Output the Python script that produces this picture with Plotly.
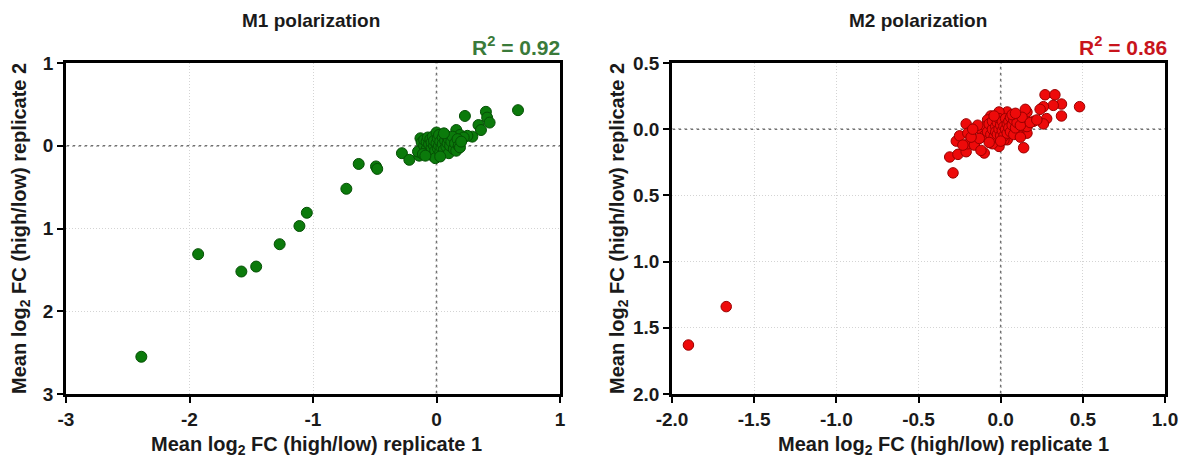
import plotly.graph_objects as go

# ---------------- data ----------------
m1_x = [-2.39, -1.93, -1.58, -1.46, -1.27, -1.11, -1.05, -0.73, -0.63, -0.49, -0.48,
        -0.28, -0.22, -0.14, -0.15,
        0.66, 0.40, 0.41, 0.43, 0.23, 0.34, 0.36, 0.29, 0.16, 0.19, 0.25, 0.22,
        -0.13, -0.12, -0.10, -0.10, -0.08, -0.08, -0.07, -0.06, -0.06, -0.05, -0.04, -0.04,
        -0.03, -0.03, -0.02, -0.02, -0.01, -0.01, 0.00, 0.00, 0.01, 0.01, 0.02, 0.02,
        0.03, 0.03, 0.04, 0.05, 0.05, 0.06, 0.07, 0.08, 0.08, 0.09, 0.10, 0.10, 0.11,
        0.12, 0.13, 0.14, 0.15, 0.16, 0.17, 0.18, 0.19, 0.20, 0.06, -0.11, -0.09, 0.03]
m1_y = [-2.55, -1.31, -1.52, -1.46, -1.19, -0.97, -0.81, -0.52, -0.22, -0.25, -0.28,
        -0.09, -0.17, -0.12, -0.07,
        0.43, 0.41, 0.34, 0.28, 0.36, 0.25, 0.19, 0.11, 0.19, 0.13, 0.12, 0.10,
        0.09, 0.04, 0.00, 0.07, -0.04, 0.05, 0.10, -0.08, 0.02, 0.08, -0.02, 0.04,
        -0.12, 0.11, 0.00, 0.06, -0.06, -0.15, 0.03, 0.16, -0.03, 0.09, 0.00, 0.13,
        -0.08, 0.05, -0.02, 0.10, 0.02, -0.05, 0.06, 0.12, -0.01, 0.03, -0.09, 0.08, 0.00,
        0.05, 0.11, -0.04, 0.03, -0.06, 0.08, 0.00, -0.02, 0.05, 0.15, -0.10, -0.12, -0.13]

m2_x = [-1.90, -1.67,
        0.48, 0.27, 0.33, 0.37, 0.32, 0.26, 0.24, 0.37, 0.28, 0.26, 0.20, 0.16, 0.15, 0.14,
        0.16, 0.11, 0.16,
        -0.31, -0.29, -0.26, -0.21, -0.27, -0.25, -0.21, -0.20, -0.20, -0.16, -0.10, -0.12,
        -0.06, 0.04, -0.01, -0.15, -0.01, -0.08, 0.11, 0.14, 0.10, 0.04, 0.02, -0.05, -0.08,
        -0.11, -0.05,
        -0.12, -0.10, -0.09, -0.08, -0.07, -0.06, -0.05, -0.05, -0.04, -0.03, -0.03, -0.02,
        -0.02, -0.01, -0.01, 0.00, 0.00, 0.01, 0.01, 0.02, 0.02, 0.03, 0.03, 0.04, 0.04,
        0.05, 0.05, 0.06, 0.06, 0.07, 0.08, 0.08, 0.09, 0.10, 0.07, -0.13, -0.14, -0.07,
        0.00, 0.12, 0.13, 0.18, 0.22, -0.18, -0.17, -0.23, 0.09, -0.04, 0.12]
m2_y = [-1.63, -1.34,
        0.17, 0.26, 0.26, 0.19, 0.18, 0.17, 0.15, 0.10, 0.08, 0.04, 0.06, 0.13, 0.15, -0.14,
        -0.03, -0.02, 0.02,
        -0.21, -0.33, -0.19, -0.17, -0.09, -0.05, 0.04, -0.03, -0.11, -0.12, -0.18, -0.16,
        0.10, 0.13, -0.13, 0.01, 0.13, 0.07, 0.06, 0.07, -0.02, -0.08, -0.08, -0.08, -0.07,
        -0.03, -0.11,
        0.00, -0.05, 0.02, -0.02, 0.04, -0.04, 0.00, 0.06, -0.06, 0.02, -0.02, 0.05,
        -0.04, 0.00, 0.08, -0.05, 0.03, 0.06, -0.01, 0.02, -0.05, 0.08, 0.00, 0.04, -0.03,
        0.06, 0.01, -0.02, 0.09, 0.03, 0.07, -0.04, 0.01, 0.05, 0.11, -0.07, 0.03, -0.10,
        -0.09, 0.03, 0.09, 0.05, 0.07, -0.06, 0.00, -0.12, 0.12, 0.10, -0.06]

m1_xticks = [-3, -2, -1, 0, 1]
m1_xlabels = ["-3", "-2", "-1", "0", "1"]
m1_yticks = [1, 0, -1, -2, -3]
m1_ylabels = ["1", "0", "1", "2", "3"]
m2_xticks = [-2, -1.5, -1, -0.5, 0, 0.5, 1]
m2_xlabels = ["-2.0", "-1.5", "-1.0", "-0.5", "0.0", "0.5", "1.0"]
m2_yticks = [0.5, 0, -0.5, -1, -1.5, -2]
m2_ylabels = ["0.5", "0.0", "0.5", "1.0", "1.5", "2.0"]

titles = ["M1 polarization", "M2 polarization"]
r2_text = ["R<sup>2</sup> = 0.92", "R<sup>2</sup> = 0.86"]
x_title = "Mean log<sub>2</sub> FC (high/low) replicate 1"
y_title = "Mean log<sub>2</sub> FC (high/low) replicate 2"

# ---------------- figure ----------------
W, H = 1188, 459
FONT = "Liberation Sans, Arial, sans-serif"
TXT = "#1a1a1a"

fig = go.Figure()
fig.add_trace(go.Scatter(x=m1_x, y=m1_y, mode="markers", xaxis="x", yaxis="y",
                         marker=dict(size=11, color="#0b7a0b",
                                     line=dict(color="#055005", width=1)),
                         showlegend=False, hoverinfo="x+y"))
fig.add_trace(go.Scatter(x=m2_x, y=m2_y, mode="markers", xaxis="x2", yaxis="y2",
                         marker=dict(size=10.5, color="#ee0a0a",
                                     line=dict(color="#9a0000", width=1)),
                         showlegend=False, hoverinfo="x+y"))


def px_x(p):
    return p / W


def px_y(p):
    return 1 - p / H


ydom = [px_y(394), px_y(63)]
common = dict(showline=True, mirror=True, linecolor="black", linewidth=2.5,
              ticks="outside", ticklen=6, tickwidth=2, tickcolor="black",
              showgrid=True, gridcolor="#d4d4d4", griddash="1px,2px", gridwidth=1,
              zeroline=False, automargin=False,
              tickfont=dict(family=FONT, size=19, color=TXT, weight="bold"))

fig.update_layout(
    width=W, height=H,
    margin=dict(l=0, r=0, t=0, b=0, autoexpand=False),
    paper_bgcolor="white", plot_bgcolor="white",
    font=dict(family=FONT),
    xaxis=dict(domain=[px_x(66), px_x(560)], range=[-3, 1], anchor="y",
               tickvals=m1_xticks, ticktext=m1_xlabels, **common),
    yaxis=dict(domain=ydom, range=[-3, 1], anchor="x",
               tickvals=m1_yticks, ticktext=m1_ylabels, **common),
    xaxis2=dict(domain=[px_x(672), px_x(1165)], range=[-2, 1], anchor="y2",
                tickvals=m2_xticks, ticktext=m2_xlabels, **common),
    yaxis2=dict(domain=ydom, range=[-2, 0.5], anchor="x2",
                tickvals=m2_yticks, ticktext=m2_ylabels, **common),
)

# dotted zero reference lines
shapes = []
for xr, yr in [("x", "y"), ("x2", "y2")]:
    shapes.append(dict(type="line", xref=xr, yref=yr + " domain", x0=0, x1=0, y0=0, y1=1,
                       line=dict(color="#707070", width=1.5, dash="dot"), layer="below"))
    shapes.append(dict(type="line", xref=xr + " domain", yref=yr, x0=0, x1=1, y0=0, y1=0,
                       line=dict(color="#707070", width=1.5, dash="dot"), layer="below"))
fig.update_layout(shapes=shapes)


def bold(s):
    return "<b>" + s + "</b>"


def note(text, x, y, size, color=TXT, xanchor="center", angle=0):
    return dict(text=bold(text), x=px_x(x), y=px_y(y), xref="paper", yref="paper",
                showarrow=False, xanchor=xanchor, yanchor="middle", textangle=angle,
                font=dict(size=size, color=color, family=FONT))


ann = [
    note(titles[0], 311, 20, 19),
    note(titles[1], 918, 20, 19),
    note(r2_text[0], 562, 46, 21, color="#3a7a3a", xanchor="right"),
    note(r2_text[1], 1169, 46, 21, color="#c8141c", xanchor="right"),
    note(x_title, 316, 445, 20),
    note(x_title, 943, 445, 20),
    note(y_title, 21, 229, 20, angle=-90),
    note(y_title, 619, 229, 20, angle=-90),
]
fig.update_layout(annotations=ann)

fig.write_html("out.html")
